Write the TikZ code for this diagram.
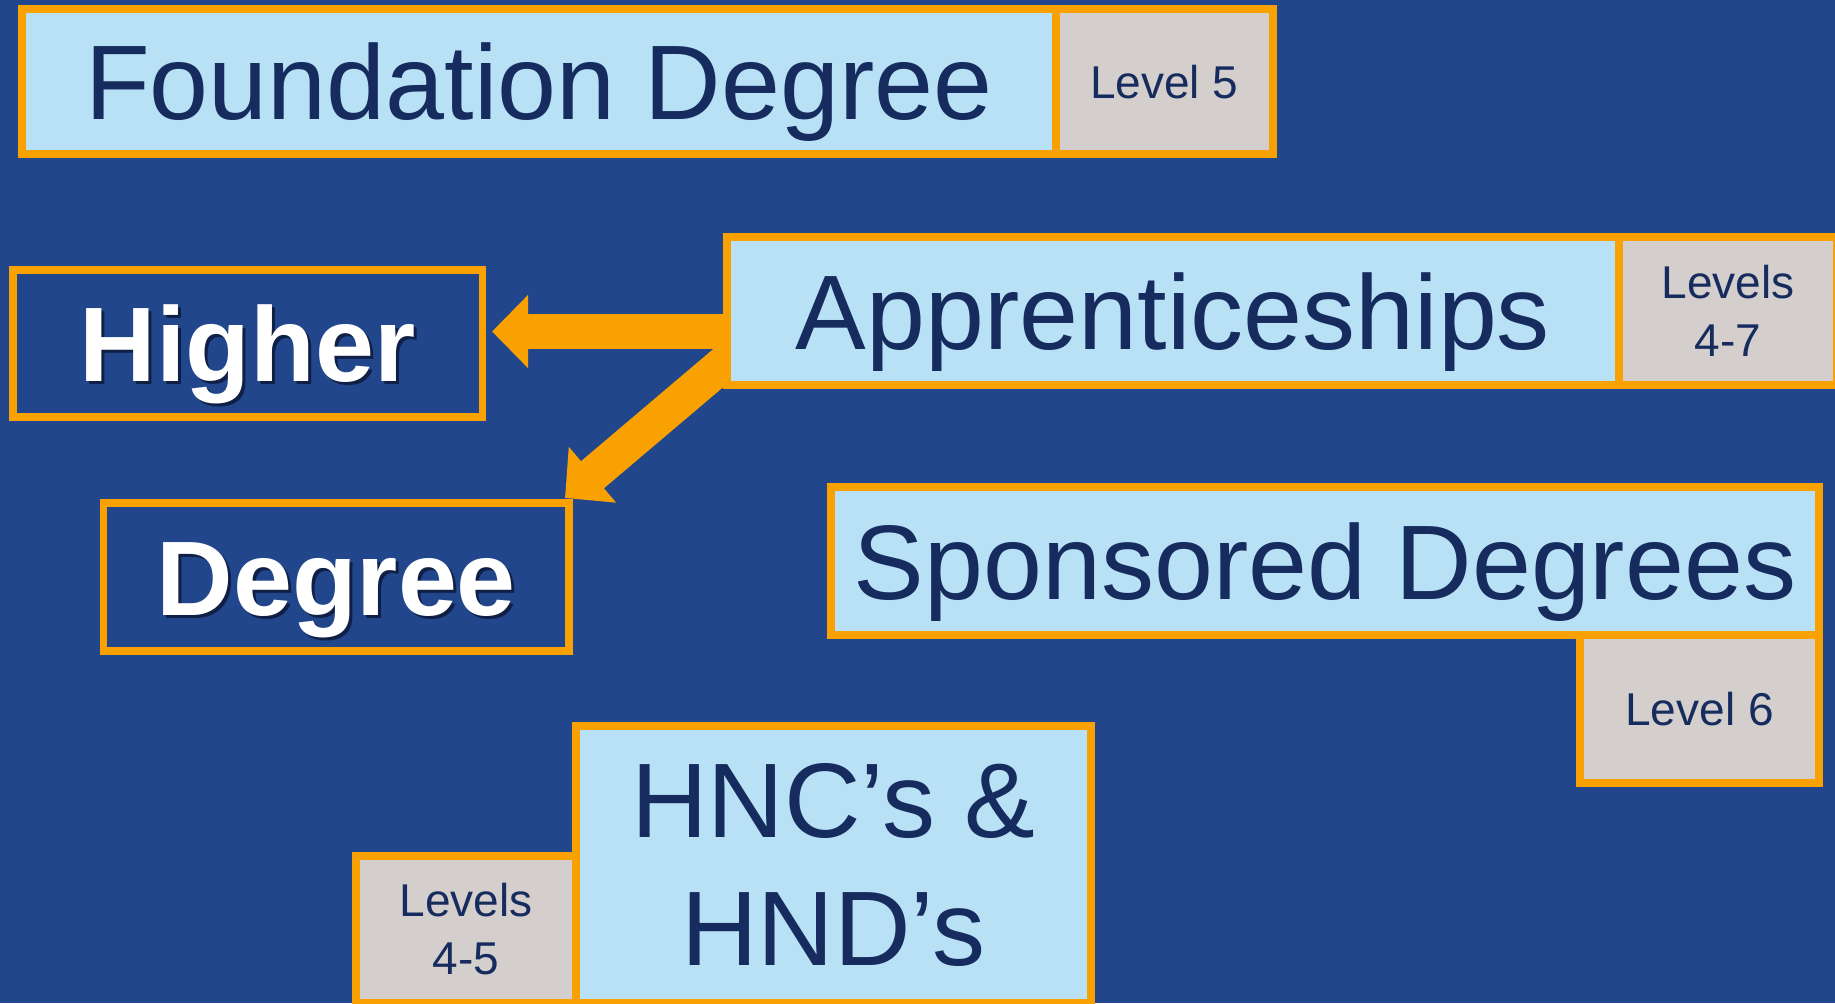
\documentclass[tikz,border=0pt]{standalone}
\usepackage{fontspec}
\setmainfont{Liberation Sans}
\usetikzlibrary{positioning,arrows.meta,calc}

\definecolor{bgblue}{HTML}{21468B}
\definecolor{boxorange}{HTML}{F8A100}
\definecolor{boxblue}{HTML}{B9E1F6}
\definecolor{boxgrey}{HTML}{D4CFCD}
\definecolor{navy}{HTML}{172C5E}
\definecolor{shadowcol}{HTML}{0F1F45}

\pgfdeclarelayer{bg}
\pgfdeclarelayer{links}
\pgfsetlayers{bg,links,main}

\newcommand\bigfont{\fontsize{53}{64}\selectfont}
\newcommand\smallfont{\fontsize{23}{29}\selectfont}
\newcommand\shadowed[1]{\makebox[0pt][l]{\hspace{1.5pt}\raisebox{-1.5pt}{\color{shadowcol}#1}}#1}

\tikzset{
  every node/.style={inner sep=0pt, outer sep=0pt},
  frame/.style={draw=boxorange, line width=3.8pt},
  title/.style={frame, fill=boxblue, text=navy, font=\bigfont, align=center, minimum height=74pt},
  level/.style={frame, fill=boxgrey, text=navy, font=\smallfont, align=center, minimum height=74pt},
  route/.style={frame, text=white, font=\bigfont\bfseries, minimum height=74pt},
  capline/.style={text height=38pt, text depth=0pt},
  smallcap/.style={text height=16.5pt, text depth=0pt},
  bigarrow/.style={draw=boxorange, line width=17.75pt, -{Triangle[width=35.5pt,length=18pt]}},
}

\begin{document}
\begin{tikzpicture}[x=0.5pt, y=-0.5pt]
  \useasboundingbox (0,0) rectangle (1835,1003);
  \clip (0,0) rectangle (1835,1003);
  \begin{pgfonlayer}{bg}
    \fill[bgblue] (0,0) rectangle (1835,1003);
  \end{pgfonlayer}

  % qualification boxes
  \node[title, capline, minimum width=517pt, minimum height=72.75pt] (found) at (538.9,81.5) {Foundation Degree};
  \node[level, smallcap, minimum width=108.5pt, minimum height=72.75pt, right=0pt of found] (lvl5) {Level 5};

  \node[title, capline, minimum width=446pt] (appr) at (1173,311) {Apprenticeships};
  \node[level, minimum width=109pt, right=0pt of appr] (lvl47) {Levels\\4-7};

  \node[route, capline, minimum width=234.75pt, minimum height=73.5pt] (higher) at (247.75,343.5) {\shadowed{Higher}};
  \node[route, capline, minimum width=232.75pt] (degree) at (336.25,577) {\shadowed{Degree}};

  \node[title, capline, minimum width=494pt] (spons) at (1325,561) {Sponsored Degrees};
  \node[level, smallcap, minimum width=119.5pt, anchor=north east] (lvl6) at (spons.south east) {Level 6};

  \node[title, minimum width=257.5pt, minimum height=138.5pt] (hnc) at (833.5,864.5) {HNC’s \&\\HND’s};
  \node[level, minimum width=110pt, minimum height=73.5pt, above left=0pt and 0pt of hnc.south west] (lvl45) {Levels\\4-5};

  % arrows out of the apprenticeship box
  \begin{pgfonlayer}{links}
    \draw[bigarrow] ($(appr.west)+(10,20.5)$) -- ($(appr.west -| higher.east)+(9.5,20.5)$);
    \draw[bigarrow] ($(appr.west)+(18,34.4)$) -- ($(degree.north east)+(-4,-5)$);
  \end{pgfonlayer}
\end{tikzpicture}
\end{document}
